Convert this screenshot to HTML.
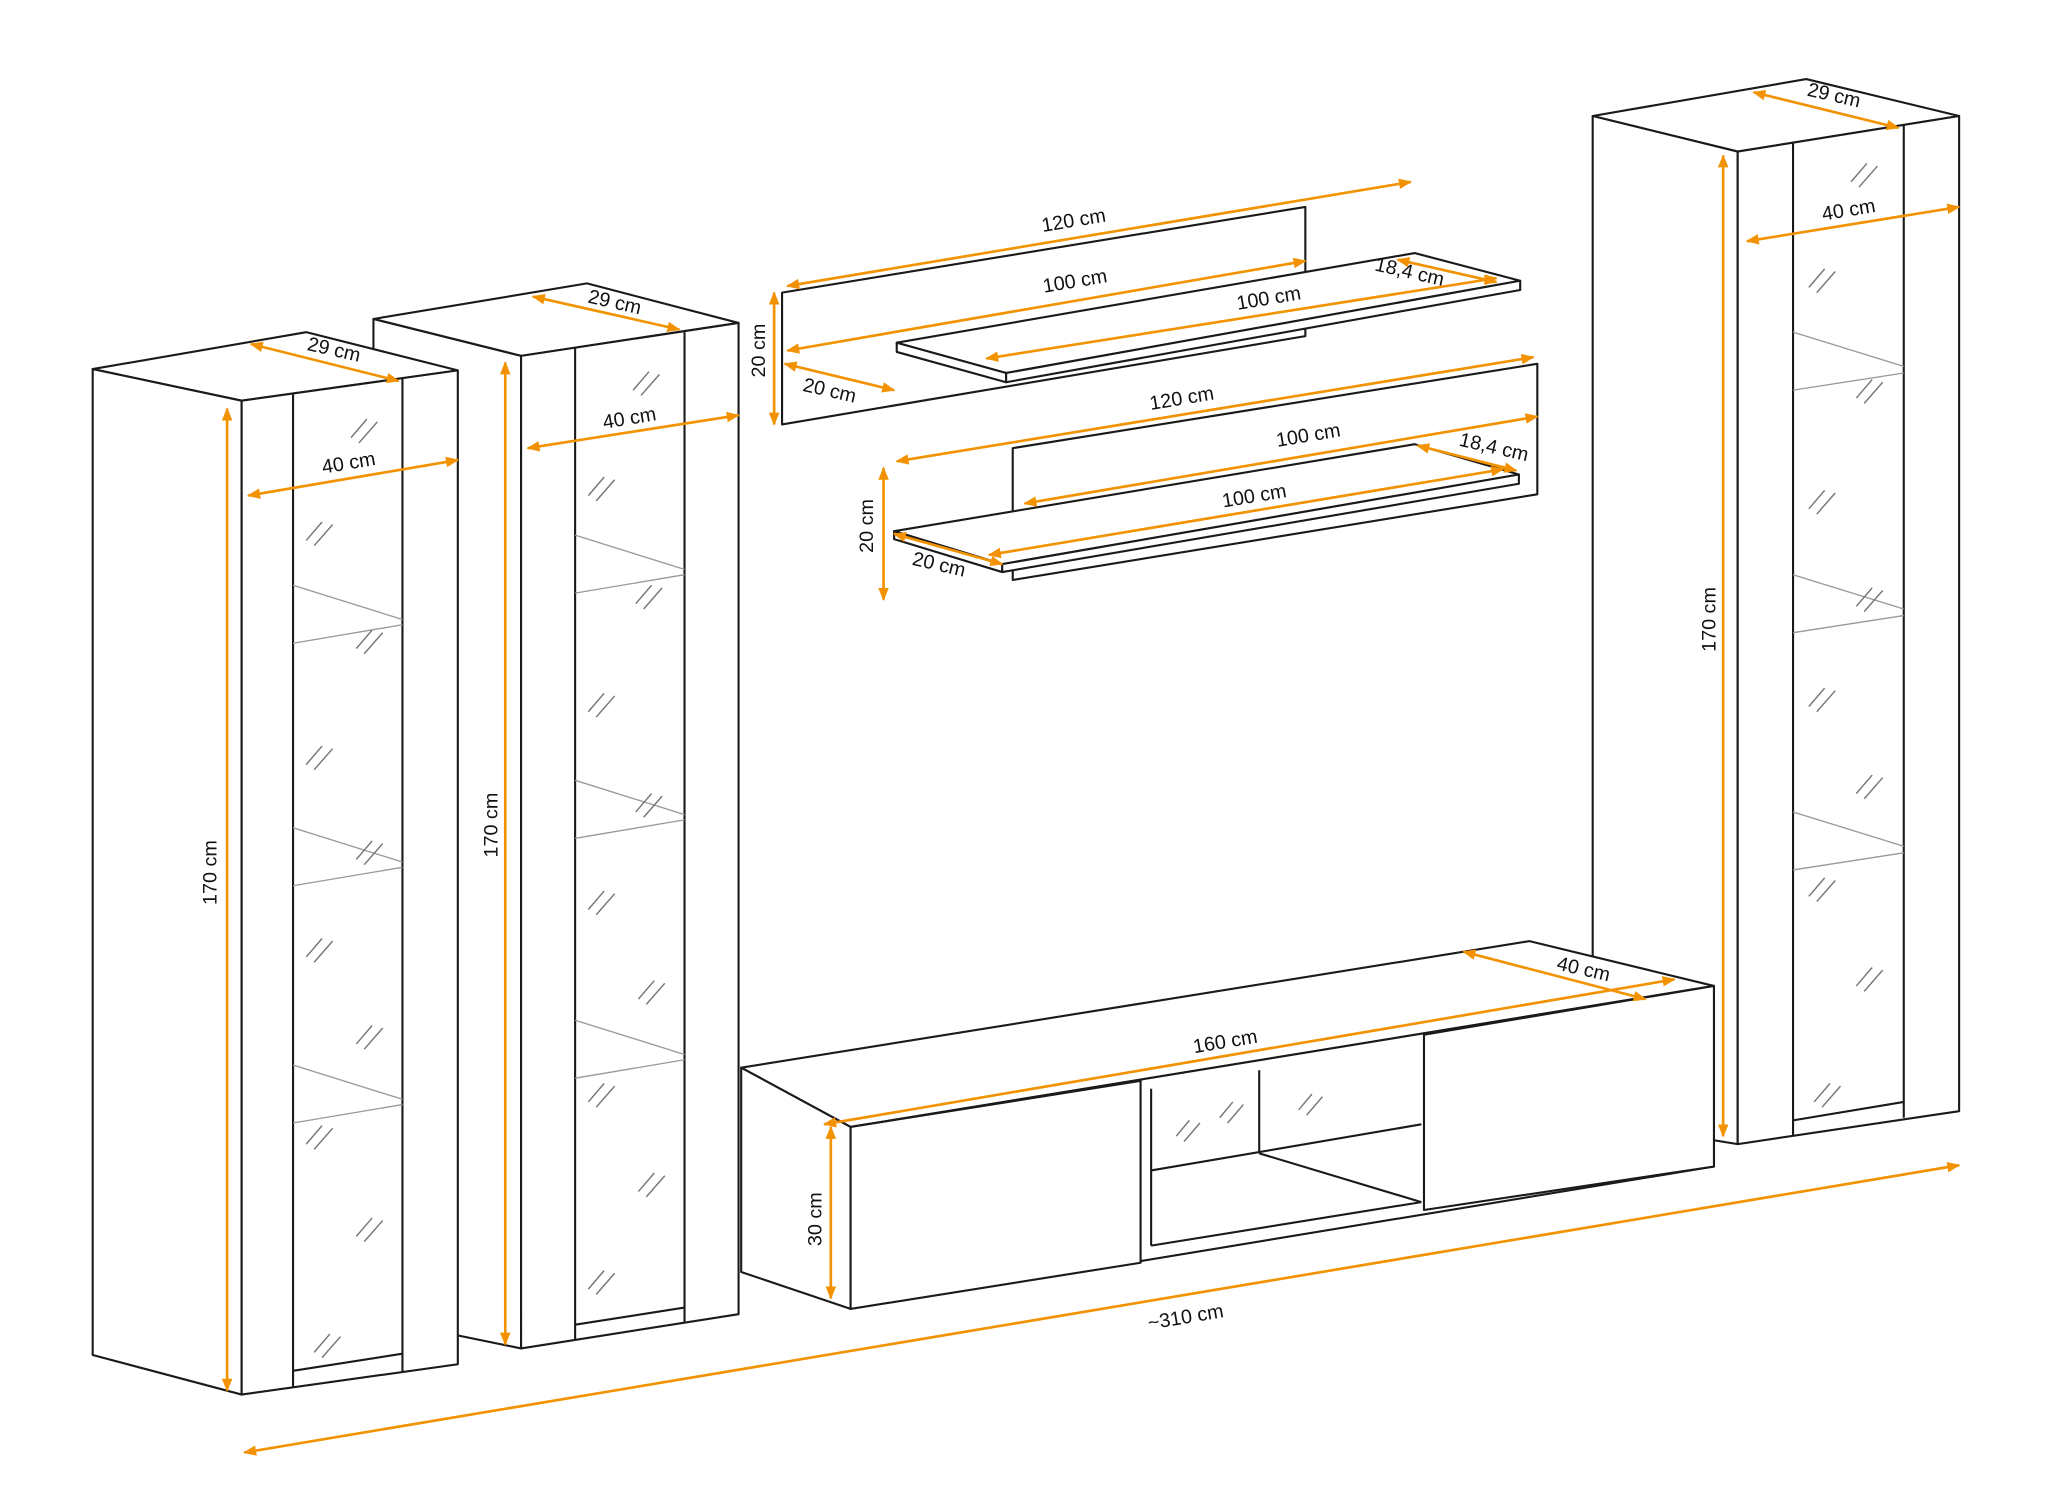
<!DOCTYPE html>
<html><head><meta charset="utf-8"><style>html,body{margin:0;padding:0;background:#fff}svg{display:block}</style></head><body>
<svg width="2065" height="1500" viewBox="0 0 1566 1138" xmlns="http://www.w3.org/2000/svg" font-family="Liberation Sans, sans-serif" font-size="15">
<defs>
<marker id="a" viewBox="0 0 10 10" refX="9" refY="5" markerWidth="5" markerHeight="5" orient="auto-start-reverse"><path d="M0,1 L10,5 L0,9 z" fill="#F39200"/></marker>
</defs>
<rect width="1566" height="1138" fill="#fff"/>
<g stroke="#1a1a1a" stroke-width="1.6" fill="#fff" stroke-linejoin="round">
<polygon points="1208,88 1370,60 1486,88 1318,115"/>
<polygon points="1208,88 1318,115 1318,868 1208,850"/>
<polygon points="1318,115 1486,88 1486,843 1318,868"/>
<line x1="1360" y1="108" x2="1360" y2="862"/><line x1="1444" y1="95" x2="1444" y2="848"/>
<line x1="1360" y1="850" x2="1444" y2="836"/>
<polygon points="562,810 1160,714 1300,748 645,855"/>
<polygon points="562,810 645,855 645,993 562,965"/>
<polygon points="645,855 1300,748 1300,885 645,993"/>
<polygon points="645,855 865,820 865,958 645,993"/>
<polygon points="1080,785 1300,748 1300,885 1080,918"/>
<line x1="873" y1="826" x2="873" y2="945"/><line x1="873" y1="888" x2="1078" y2="853"/><line x1="873" y1="945" x2="1078" y2="912"/>
<line x1="955" y1="875" x2="1078" y2="912"/><line x1="955" y1="812" x2="955" y2="875"/>
<polygon points="283,242 445,215 560,245 395,270"/>
<polygon points="283,242 395,270 395,1023 283,1000"/>
<polygon points="395,270 560,245 560,997 395,1023"/>
<line x1="436" y1="264" x2="436" y2="1017"/><line x1="519" y1="252" x2="519" y2="1003"/>
<line x1="436" y1="1005" x2="519" y2="992"/>
<polygon points="70,280 232,252 347,281 183,304"/>
<polygon points="70,280 183,304 183,1058 70,1028"/>
<polygon points="183,304 347,281 347,1035 183,1058"/>
<line x1="222" y1="298" x2="222" y2="1052"/><line x1="305" y1="287" x2="305" y2="1041"/>
<line x1="222" y1="1040" x2="305" y2="1027"/>
<polygon points="593,222 990,157 990,255 593,322"/>
<polygon points="680,260 1073,192 1153,213 763,283"/>
<polygon points="680,260 763,283 763,290 680,267"/>
<polygon points="763,283 1153,213 1153,220 763,290"/>
<polygon points="768,340 1166,276 1166,375 768,440"/>
<polygon points="678,403 1073,337 1152,360 760,428"/>
<polygon points="678,403 760,428 760,434 678,409"/>
<polygon points="760,428 1152,360 1152,367 760,434"/>
</g>
<g stroke="#999" stroke-width="1" fill="none">
<line x1="222" y1="488" x2="305" y2="474"/><line x1="222" y1="444" x2="305" y2="470"/>
<line x1="222" y1="672" x2="305" y2="658"/><line x1="222" y1="628" x2="305" y2="654"/>
<line x1="222" y1="852" x2="305" y2="838"/><line x1="222" y1="808" x2="305" y2="834"/>
<line x1="436" y1="450" x2="519" y2="436"/><line x1="436" y1="406" x2="519" y2="432"/>
<line x1="436" y1="636" x2="519" y2="622"/><line x1="436" y1="592" x2="519" y2="618"/>
<line x1="436" y1="818" x2="519" y2="804"/><line x1="436" y1="774" x2="519" y2="800"/>
<line x1="1360" y1="296" x2="1444" y2="283"/><line x1="1360" y1="252" x2="1444" y2="278"/>
<line x1="1360" y1="480" x2="1444" y2="467"/><line x1="1360" y1="436" x2="1444" y2="462"/>
<line x1="1360" y1="660" x2="1444" y2="647"/><line x1="1360" y1="616" x2="1444" y2="642"/>
</g>
<g stroke="#777" stroke-width="1.1">
<path d="M266,332l12,-14M272,336l14,-16M232,410l12,-14M238,414l14,-16M270,492l12,-14M276,496l14,-16M232,580l12,-14M238,584l14,-16M270,652l12,-14M276,656l14,-16M232,726l12,-14M238,730l14,-16M270,792l12,-14M276,796l14,-16M232,868l12,-14M238,872l14,-16M270,938l12,-14M276,942l14,-16M238,1026l12,-14M244,1030l14,-16"/>
<path d="M480,296l12,-14M486,300l14,-16M446,376l12,-14M452,380l14,-16M482,458l12,-14M488,462l14,-16M446,540l12,-14M452,544l14,-16M482,616l12,-14M488,620l14,-16M446,690l12,-14M452,694l14,-16M484,758l12,-14M490,762l14,-16M446,836l12,-14M452,840l14,-16M484,904l12,-14M490,908l14,-16M446,978l12,-14M452,982l14,-16"/>
<path d="M1404,138l12,-14M1410,142l14,-16M1372,218l12,-14M1378,222l14,-16M1408,302l12,-14M1414,306l14,-16M1372,386l12,-14M1378,390l14,-16M1408,460l12,-14M1414,464l14,-16M1372,536l12,-14M1378,540l14,-16M1408,602l12,-14M1414,606l14,-16M1372,680l12,-14M1378,684l14,-16M1408,748l12,-14M1414,752l14,-16M1376,836l12,-14M1382,840l14,-16"/>
<path d="M892,862l10,-12M898,866l12,-14M925,848l10,-12M931,852l12,-14M985,842l10,-12M991,846l12,-14"/>
</g>
<g stroke="#F39200" stroke-width="2" fill="none" marker-start="url(#a)" marker-end="url(#a)">
<line x1="190" y1="261" x2="302" y2="289"/><line x1="188" y1="376" x2="347" y2="349"/><line x1="172" y1="310" x2="172" y2="1055"/>
<line x1="404" y1="225" x2="515" y2="250"/><line x1="400" y1="340" x2="560" y2="315"/><line x1="383" y1="275" x2="383" y2="1020"/>
<line x1="597" y1="217" x2="1070" y2="138"/><line x1="597" y1="266" x2="990" y2="198"/><line x1="748" y1="272" x2="1135" y2="211"/>
<line x1="1060" y1="197" x2="1135" y2="214"/><line x1="587" y1="222" x2="587" y2="322"/><line x1="595" y1="276" x2="678" y2="296"/>
<line x1="680" y1="350" x2="1163" y2="271"/><line x1="777" y1="382" x2="1166" y2="316"/><line x1="750" y1="421" x2="1140" y2="356"/>
<line x1="1075" y1="338" x2="1150" y2="357"/><line x1="670" y1="355" x2="670" y2="455"/><line x1="678" y1="405" x2="760" y2="428"/>
<line x1="1330" y1="70" x2="1440" y2="97"/><line x1="1325" y1="183" x2="1486" y2="157"/><line x1="1307" y1="118" x2="1307" y2="862"/>
<line x1="1110" y1="722" x2="1248" y2="758"/><line x1="625" y1="853" x2="1270" y2="743"/><line x1="630" y1="855" x2="630" y2="985"/>
<line x1="185" y1="1102" x2="1486" y2="884"/>
</g>
<g fill="#111" text-anchor="middle">
<text transform="translate(252,270) rotate(13)">29 cm</text>
<text transform="translate(265,356) rotate(-9.5)">40 cm</text>
<text transform="translate(164,662) rotate(-90)">170 cm</text>
<text transform="translate(465,234) rotate(13)">29 cm</text>
<text transform="translate(478,322) rotate(-9.5)">40 cm</text>
<text transform="translate(377,626) rotate(-90)">170 cm</text>
<text transform="translate(815,172) rotate(-9.5)">120 cm</text>
<text transform="translate(816,218) rotate(-9.5)">100 cm</text>
<text transform="translate(963,231) rotate(-9.5)">100 cm</text>
<text transform="translate(1068,211) rotate(13)">18,4 cm</text>
<text transform="translate(580,266) rotate(-90)">20 cm</text>
<text transform="translate(628,301) rotate(13)">20 cm</text>
<text transform="translate(897,307) rotate(-9.5)">120 cm</text>
<text transform="translate(993,335) rotate(-9.5)">100 cm</text>
<text transform="translate(952,381) rotate(-9.5)">100 cm</text>
<text transform="translate(1132,344) rotate(13)">18,4 cm</text>
<text transform="translate(662,399) rotate(-90)">20 cm</text>
<text transform="translate(711,433) rotate(13)">20 cm</text>
<text transform="translate(1390,77) rotate(13)">29 cm</text>
<text transform="translate(1403,164) rotate(-9.5)">40 cm</text>
<text transform="translate(1301,470) rotate(-90)">170 cm</text>
<text transform="translate(1200,740) rotate(13)">40 cm</text>
<text transform="translate(930,795) rotate(-9.5)">160 cm</text>
<text transform="translate(623,925) rotate(-90)">30 cm</text>
<text transform="translate(900,1004) rotate(-9.5)">~310 cm</text>
</g>
</svg>
</body></html>
